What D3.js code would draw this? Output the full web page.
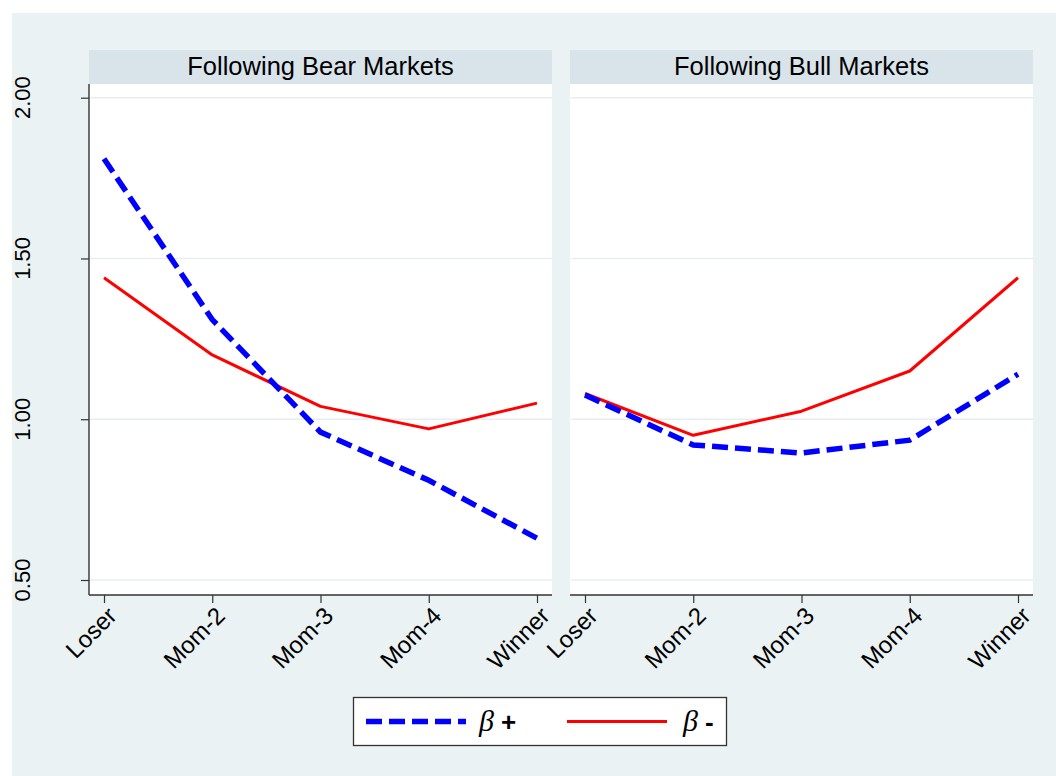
<!DOCTYPE html>
<html>
<head>
<meta charset="utf-8">
<script src="https://cdn.jsdelivr.net/npm/d3@7"></script>
<style>
  html, body { margin: 0; padding: 0; background: #ffffff; }
  svg { display: block; }
  text { font-family: "Liberation Sans", Arial, sans-serif; fill: #000; }
</style>
</head>
<body>
<svg id="chart" width="1056" height="776"></svg>
<script>
// Portfolio categories (x axis)
const categories = ["Loser", "Mom-2", "Mom-3", "Mom-4", "Winner"];
const panelTitles = ["Following Bear Markets", "Following Bull Markets"];

// Beta estimates, one array per state and series
const bearBetaPlus  = [1.81, 1.31, 0.96, 0.81, 0.63];
const bearBetaMinus = [1.44, 1.20, 1.04, 0.97, 1.05];
const bullBetaPlus  = [1.075, 0.92, 0.895, 0.935, 1.14];
const bullBetaMinus = [1.08, 0.95, 1.025, 1.15, 1.44];

const yTicks = [0.5, 1.0, 1.5, 2.0];
const legendLabels = ["+", "-"];

const panels = [
  { title: panelTitles[0], plus: bearBetaPlus, minus: bearBetaMinus, left: 89,  showY: true },
  { title: panelTitles[1], plus: bullBetaPlus, minus: bullBetaMinus, left: 570, showY: false }
];

const W = 1056, H = 776;
const panelW = 463;
const headerTop = 50, plotTop = 84, plotBottom = 595;

const BG = "#eaf2f3", HEADER = "#d8e4ea", GRID = "#e6eef2", AXIS = "#333333";
const BLUE = "#0000ff", RED = "#ff0000";

const svg = d3.select("#chart");

// graph region
svg.append("rect").attr("x", 12).attr("y", 13)
  .attr("width", W - 12).attr("height", H - 13).attr("fill", BG);

const y = d3.scaleLinear().domain([0.5, 2.0]).range([580, 97.7]);

panels.forEach(p => {
  const g = svg.append("g");
  const x = d3.scalePoint().domain(categories)
    .range([p.left + 15, p.left + panelW - 15]);

  // header strip
  g.append("rect").attr("x", p.left).attr("y", headerTop)
    .attr("width", panelW).attr("height", plotTop - headerTop).attr("fill", HEADER);
  g.append("text").attr("x", p.left + panelW / 2).attr("y", 74.5)
    .attr("text-anchor", "middle").style("font-size", "25.5px").text(p.title);

  // plot region
  g.append("rect").attr("x", p.left).attr("y", plotTop)
    .attr("width", panelW).attr("height", plotBottom - plotTop).attr("fill", "#ffffff");

  // gridlines
  g.selectAll("line.grid").data(yTicks).join("line")
    .attr("class", "grid")
    .attr("x1", p.left + 1).attr("x2", p.left + panelW)
    .attr("y1", d => y(d)).attr("y2", d => y(d))
    .attr("stroke", GRID).attr("stroke-width", 1.5);

  // x axis
  const xAxis = d3.axisBottom(x).tickSize(8).tickSizeOuter(0).tickFormat("");
  const xa = g.append("g").attr("transform", `translate(0,${plotBottom})`).call(xAxis);
  xa.select(".domain").remove();
  xa.selectAll(".tick line").attr("stroke", AXIS).attr("stroke-width", 1.2);
  g.append("line").attr("x1", p.left).attr("x2", p.left + panelW)
    .attr("y1", plotBottom).attr("y2", plotBottom)
    .attr("stroke", AXIS).attr("stroke-width", 1.4);

  g.selectAll("text.xlab").data(categories).join("text")
    .attr("class", "xlab")
    .attr("transform", d => `translate(${x(d) + 2},${plotBottom + 10}) rotate(-45)`)
    .attr("text-anchor", "end").attr("dy", "0.72em")
    .style("font-size", "24px").text(d => d);

  // y axis (left panel only)
  if (p.showY) {
    const yAxis = d3.axisLeft(y).tickValues(yTicks).tickSize(8).tickSizeOuter(0).tickFormat("");
    const ya = g.append("g").attr("transform", `translate(${p.left},0)`).call(yAxis);
    ya.select(".domain").remove();
    ya.selectAll(".tick line").attr("stroke", AXIS).attr("stroke-width", 1.2);
    g.append("line").attr("x1", p.left).attr("x2", p.left)
      .attr("y1", plotTop).attr("y2", plotBottom)
      .attr("stroke", AXIS).attr("stroke-width", 1.4);
    g.selectAll("text.ylab").data(yTicks).join("text")
      .attr("class", "ylab")
      .attr("transform", d => `translate(30,${y(d)}) rotate(-90)`)
      .attr("text-anchor", "middle")
      .style("font-size", "22px").text(d => d3.format(".2f")(d));
  }

  const line = d3.line().x((d, i) => x(categories[i])).y(d => y(d));

  g.append("path").datum(p.minus).attr("d", line)
    .attr("fill", "none").attr("stroke", RED).attr("stroke-width", 3)
    .attr("stroke-linejoin", "round");
  g.append("path").datum(p.plus).attr("d", line)
    .attr("fill", "none").attr("stroke", BLUE).attr("stroke-width", 5.5)
    .attr("stroke-dasharray", "16,7").attr("stroke-linejoin", "miter");
});

// legend
const lg = svg.append("g");
lg.append("rect").attr("x", 353.5).attr("y", 697.5).attr("width", 373).attr("height", 48)
  .attr("fill", "#ffffff").attr("stroke", "#333333").attr("stroke-width", 1.3);

const legendItems = [
  { label: legendLabels[0], color: BLUE, width: 5.5, dash: "16,7", x0: 366, tx: 479 },
  { label: legendLabels[1], color: RED, width: 3, dash: null, x0: 567, tx: 683 }
];
legendItems.forEach(it => {
  lg.append("line").attr("x1", it.x0).attr("x2", it.x0 + 100)
    .attr("y1", 721.5).attr("y2", 721.5)
    .attr("stroke", it.color).attr("stroke-width", it.width)
    .attr("stroke-dasharray", it.dash);
  const t = lg.append("text").attr("x", it.tx).attr("y", 731);
  t.append("tspan").style("font-family", "'Liberation Serif', 'Times New Roman', serif")
    .style("font-style", "italic").style("font-size", "30px").text("β");
  t.append("tspan").attr("dx", 7).style("font-size", "26px").style("font-weight", "bold").text(it.label);
});
</script>
</body>
</html>
